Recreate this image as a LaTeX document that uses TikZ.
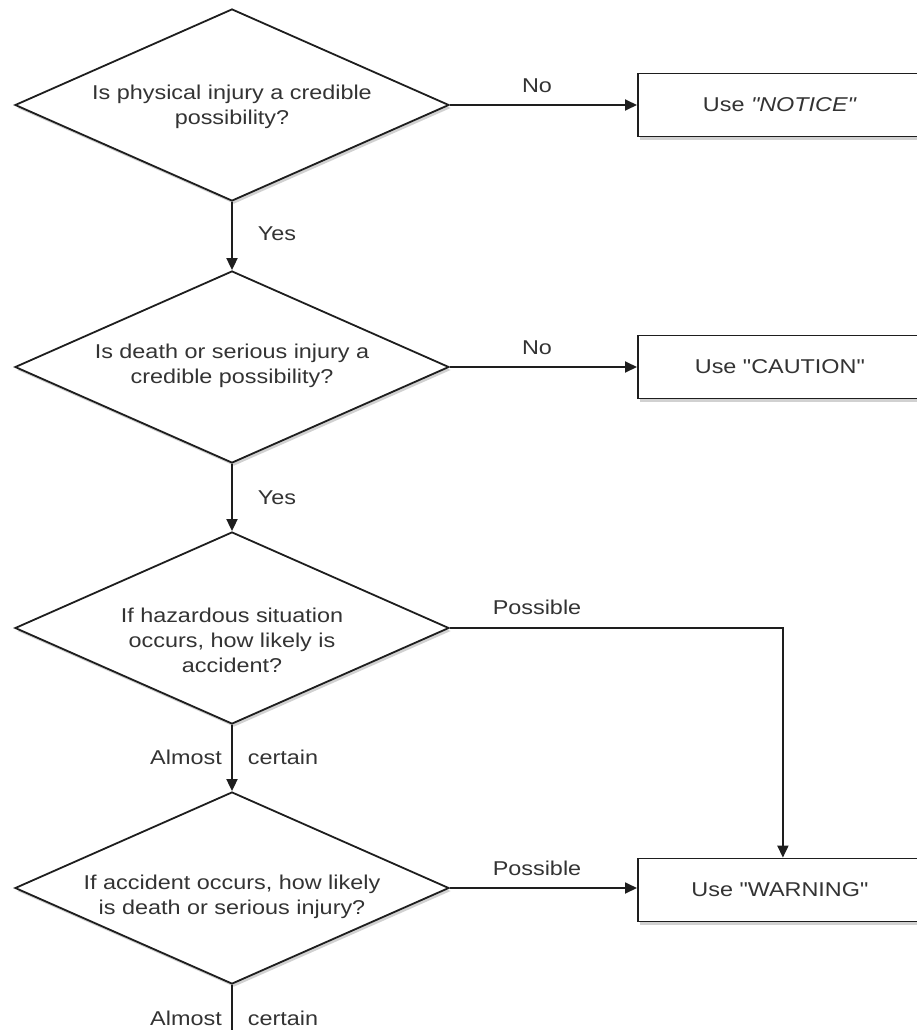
\documentclass[tikz,border=0pt]{standalone}
\usepackage{fontspec}
\setmainfont{Liberation Sans}[FakeStretch=1.17, Ligatures=TeXOff]
\usetikzlibrary{shapes.geometric,arrows.meta,shadows}
\definecolor{ink}{HTML}{1E1E1E}
\definecolor{txt}{HTML}{333333}
\begin{document}
\begin{tikzpicture}[x=1pt,y=-1pt,
  font=\fontsize{20}{25}\selectfont,
  shadowed/.style={drop shadow={shadow xshift=2pt, shadow yshift=-3pt, fill=black, opacity=0.18}},
  decision/.style={diamond, draw=ink, line width=1.8pt, fill=white,
    shape aspect=2.26, minimum width=434pt, minimum height=192pt,
    inner sep=0pt, shadowed},
  qtext/.style={text=txt, align=center, inner sep=0pt},
  outcome/.style={rectangle, draw=ink, line width=1.8pt, fill=white,
    minimum width=284pt, minimum height=63pt, anchor=west, text=txt, shadowed},
  flow/.style={draw=ink, line width=1.8pt, -{Triangle[length=12pt,width=11pt]}},
  plainline/.style={draw=ink, line width=1.8pt},
  lbl/.style={text=txt, inner sep=0pt}]
\useasboundingbox (0,0) rectangle (917,1030);

% decisions
\node[decision] (d1) at (232,105) {};
\node[decision] (d2) at (232,367) {};
\node[decision] (d3) at (232,628) {};
\node[decision] (d4) at (232,888) {};

\node[qtext] (q1) at ([yshift=-2pt]d1.center) {Is physical injury a credible\\possibility?};
\node[qtext] (q2) at ([yshift=1pt]d2.center) {Is death or serious injury a\\credible possibility?};
\node[qtext] (q3) at ([yshift=-12pt]d3.center) {If hazardous situation\\occurs, how likely is\\accident?};
\node[qtext] (q4) at ([yshift=-9pt]d4.center) {If accident occurs, how likely\\is death or serious injury?};

% outcomes
\node[outcome] (b1) at (637,105) {Use \textit{"NOTICE"}};
\node[outcome] (b2) at (637,367) {Use "CAUTION"};
\node[outcome] (b3) at (637,890) {Use "WARNING"};

% connectors
\draw[flow] (d1.east) -- (d1.east -| b1.west);
\draw[flow] (d2.east) -- (d2.east -| b2.west);
\draw[flow] (d1.south) -- (d2.north);
\draw[flow] (d2.south) -- (d3.north);
\draw[flow] (d3.south) -- (d4.north);
\draw[flow] (d3.east) -| ([xshift=3pt]b3.north);
\draw[flow] (d4.east) -- (d4.east -| b3.west);
\coordinate (tail) at (232,1045);
\draw[plainline] (d4.south) -- (tail);

% connector labels
\node[lbl] (n1) at (537,86) {No};
\node[lbl] (n2) at (537,348) {No};
\node[lbl] (y1) at (277,234) {Yes};
\node[lbl] (y2) at (277,498) {Yes};
\node[lbl] (p1) at (537,607) {Possible};
\node[lbl] (p2) at (537,868) {Possible};
\node[lbl] (a1) at (186,757) {Almost};
\node[lbl] (c1) at (283,757) {certain};
\node[lbl] (a2) at (186,1018) {Almost};
\node[lbl] (c2) at (283,1018) {certain};
\end{tikzpicture}
\end{document}
